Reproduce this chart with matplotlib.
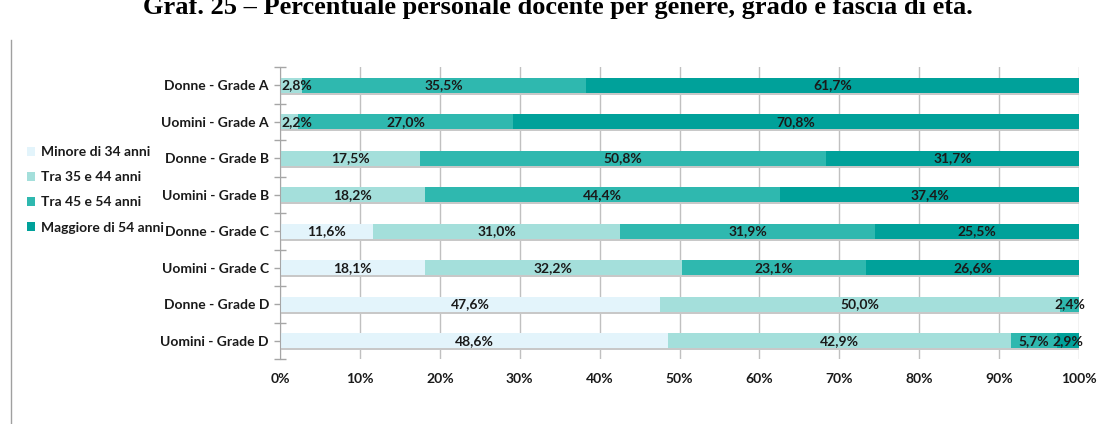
import matplotlib
matplotlib.use("Agg")
import matplotlib.pyplot as plt
from matplotlib.patches import Patch
from matplotlib.lines import Line2D
import numpy as np

categories = ["Donne - Grade A", "Uomini - Grade A", "Donne - Grade B", "Uomini - Grade B",
              "Donne - Grade C", "Uomini - Grade C", "Donne - Grade D", "Uomini - Grade D"]
series_names = ["Minore di 34 anni", "Tra 35 e 44 anni", "Tra 45 e 54 anni", "Maggiore di 54 anni"]
minore_34 = [0.0, 0.0, 0.0, 0.0, 11.6, 18.1, 47.6, 48.6]
tra_35_44 = [2.8, 2.2, 17.5, 18.2, 31.0, 32.2, 50.0, 42.9]
tra_45_54 = [35.5, 27.0, 50.8, 44.4, 31.9, 23.1, 2.4, 5.7]
maggiore_54 = [61.7, 70.8, 31.7, 37.4, 25.5, 26.6, 0.0, 2.9]
xtick_values = [0, 10, 20, 30, 40, 50, 60, 70, 80, 90, 100]
xtick_labels = ["0%", "10%", "20%", "30%", "40%", "50%", "60%", "70%", "80%", "90%", "100%"]

colors = ["#E3F4FB", "#A4DFDB", "#2FB8AF", "#00A19A"]
FONT = "Lato"
TXT = "#1a1a1a"
FS = 10

fig = plt.figure(figsize=(11.15, 4.24), dpi=100)
W, H = 1115, 424
ax = fig.add_axes([280 / W, 1 - 359 / H, (1079 - 280) / W, (359 - 67) / H])

y = np.arange(len(categories))
series = [minore_34, tra_35_44, tra_45_54, maggiore_54]
bh = 0.41

# shadow under bars
totals = np.sum(np.array(series), axis=0)
ax.barh(y + 0.06, totals, height=bh, color="#C8C8C8", zorder=1.5, linewidth=0)

left = np.zeros(len(categories))
for vals, col, name in zip(series, colors, series_names):
    vals = np.array(vals)
    ax.barh(y, vals, left=left, height=bh, color=col, zorder=2, linewidth=0, label=name)
    for i, v in enumerate(vals):
        if v <= 0:
            continue
        c = left[i] + v / 2
        txt = f"{v:.1f}".replace(".", ",") + "%"
        if c < 2.0:
            ax.text(0.2, y[i], txt, ha="left", va="center", fontsize=FS, fontweight="bold",
                    family=FONT, color=TXT, zorder=4)
        else:
            ax.text(c, y[i], txt, ha="center", va="center", fontsize=FS, fontweight="bold",
                    family=FONT, color=TXT, zorder=4)
    left = left + vals

ax.set_xlim(0, 100)
ax.set_ylim(len(categories) - 0.5, -0.5)
ax.set_xticks(xtick_values)
ax.set_xticklabels(xtick_labels, fontsize=FS, fontweight="bold", family=FONT, color=TXT)
ax.set_yticks(y)
ax.set_yticklabels(categories, fontsize=FS, fontweight="bold", family=FONT, color=TXT)
ax.set_yticks(np.arange(-0.5, len(categories), 1.0), minor=True)
ax.tick_params(axis="x", length=0, pad=10)
ax.tick_params(axis="y", which="both", direction="inout", length=8, color="#A6A6A6", width=1, pad=4)
for s in ["top", "right", "bottom"]:
    ax.spines[s].set_visible(False)
ax.spines["left"].set_color("#A6A6A6")
ax.spines["left"].set_zorder(3)
ax.grid(axis="x", color="#C0C0C0", linewidth=1, zorder=0)
ax.set_axisbelow(True)

handles = [Patch(facecolor=c, edgecolor="none") for c in colors]
fig.legend(handles, series_names, loc="upper left", bbox_to_anchor=(27 / W, 1 - 146 / H),
           frameon=False, handlelength=0.6, handleheight=0.6, handletextpad=0.4,
           labelspacing=0.95, borderpad=0, borderaxespad=0,
           prop={"family": FONT, "weight": "bold", "size": FS}, labelcolor=TXT)

fig.text(0.5, 1 - 14 / H, "Graf. 25 – Percentuale personale docente per genere, grado e fascia di età.",
         ha="center", va="baseline", fontsize=19, fontweight="bold", family="Liberation Serif", color="black")

fig.add_artist(Line2D([10.5 / W, 10.5 / W], [0, 1 - 40 / H], color="#A0A0A0", linewidth=1))

fig.savefig("out.png", dpi=100)
